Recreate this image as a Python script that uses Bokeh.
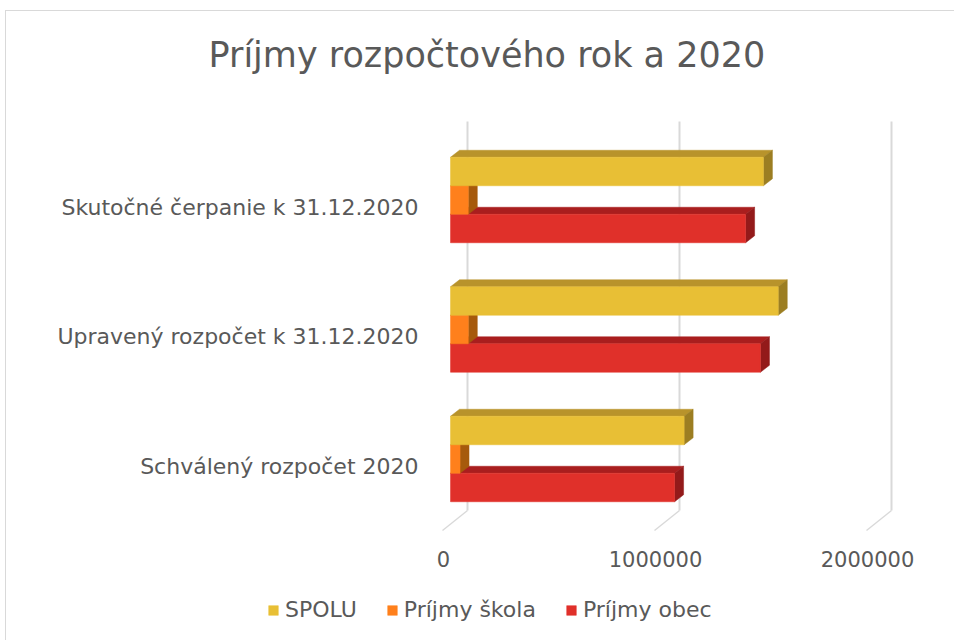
from bokeh.plotting import figure
from bokeh.models import (FixedTicker, LinearAxis, Range1d, Legend, LegendItem, Title)
from bokeh.embed import file_html
from bokeh.resources import INLINE

# ---------------- data ----------------
categories = ["Schválený rozpočet 2020", "Upravený rozpočet k 31.12.2020", "Skutočné čerpanie k 31.12.2020"]
series_names = ["SPOLU", "Príjmy škola", "Príjmy obec"]
spolu = [1102000, 1546000, 1476000]
skola = [45000, 84000, 84000]
obec = [1057000, 1462000, 1392000]
x_ticks = [0, 1000000, 2000000]
x_tick_labels = ["0", "1000000", "2000000"]
title_text = "Príjmy rozpočtového rok a 2020"

# ---------------- layout / style ----------------
OX, OY = 6, 11           # page position of the canvas (after css margin + border)
W, H = 955 - OX, 641 - OY
# frame in page pixels
PL, PR, PT, PB = 250, 910, 20, 634
FRAME_L, FRAME_R, FRAME_T, FRAME_B = PL - OX, PR - OX, PT - OY, PB - OY
PPV = 212 / 1e6          # pixels per value unit
PPC = 129.5              # pixels per category
ZERO_X = 450 - OX        # canvas x of value 0 (bar front plane)
CAT0_Y = 465.5 - OY      # canvas y of first category label
FONT = "DejaVu Sans"
TXT = "#595959"

def dxv(px):
    return px / PPV

def dyv(px):
    return px / PPC

x_start = (FRAME_L - ZERO_X) / PPV
x_end = (FRAME_R - ZERO_X) / PPV
y_start = (CAT0_Y - FRAME_B) / PPC
y_end = (CAT0_Y - FRAME_T) / PPC

p = figure(width=W, height=H, output_backend="svg", toolbar_location=None,
           x_range=Range1d(x_start, x_end), y_range=Range1d(y_start, y_end),
           min_border_left=FRAME_L, min_border_right=W - FRAME_R,
           min_border_top=FRAME_T, min_border_bottom=H - FRAME_B,
           x_axis_location=None, title=None)
p.styles = {"margin-left": "5px", "margin-top": "10px",
            "border-top": "1px solid #d9d9d9", "border-left": "1px solid #d9d9d9"}
p.outline_line_color = None
p.background_fill_color = "white"
p.border_fill_color = "white"
p.grid.visible = False

# title (pulled down into the canvas by a negative standoff)
t = Title(text=title_text, align="left", offset=208 - PL, standoff=-2 * (74 - PT),
          text_font=FONT, text_font_size="35px", text_font_style="normal",
          text_color=TXT)
p.add_layout(t, "above")

# y axis (categories), labels pulled right to sit left of the bars
p.yaxis.ticker = FixedTicker(ticks=list(range(len(categories))))
p.yaxis.major_label_overrides = {i: c for i, c in enumerate(categories)}
p.yaxis.major_label_text_font = FONT
p.yaxis.major_label_text_font_size = "22px"
p.yaxis.major_label_text_color = TXT
p.yaxis.major_label_standoff = PL - 424
p.yaxis.axis_line_color = None
p.yaxis.major_tick_line_color = None
p.yaxis.minor_tick_line_color = None

# x axis (labels drawn up at the floor front edge)
p.extra_x_ranges = {"floor": Range1d((FRAME_L - (ZERO_X - 7)) / PPV, (FRAME_R - (ZERO_X - 7)) / PPV)}
xa = LinearAxis(x_range_name="floor", ticker=FixedTicker(ticks=x_ticks),
                major_label_overrides={v: l for v, l in zip(x_ticks, x_tick_labels)})
xa.major_label_text_font = FONT
xa.major_label_text_font_size = "21px"
xa.major_label_text_color = TXT
xa.major_label_standoff = 544 - PB
xa.axis_line_color = None
xa.major_tick_line_color = None
xa.minor_tick_line_color = None
p.add_layout(xa, "below")

# gridlines (back wall) + floor lines
g_top = (CAT0_Y - (121 - OY)) / PPC
g_bot = (CAT0_Y - (510 - OY)) / PPC
g_front = (CAT0_Y - (530 - OY)) / PPC
p.segment(x0=[v + dxv(17) for v in x_ticks], y0=[g_top] * len(x_ticks),
          x1=[v + dxv(17) for v in x_ticks], y1=[g_bot] * len(x_ticks),
          line_color="#d9d9d9", line_width=2)
p.segment(x0=[v + dxv(17) for v in x_ticks], y0=[g_bot] * len(x_ticks),
          x1=[v + dxv(17 - 25) for v in x_ticks], y1=[g_front] * len(x_ticks),
          line_color="#d9d9d9", line_width=1.5)

# 3D bars
BAR_H = dyv(28.5)
DX, DY = dxv(9), dyv(7)
series = [
    (obec, 2, "#E0302A", "#A91E1E", "#931A1A"),
    (skola, 1, "#FF801C", "#B4600E", "#A65A0C"),
    (spolu, 0, "#E8BF35", "#B8932B", "#9C7E22"),
]
renderers = {}
for vals, s, front, top, side in series:
    cy = [k + dyv(7) + (1 - s) * BAR_H for k in range(len(categories))]
    top_xs = [[0, v, v + DX, DX] for v in vals]
    top_ys = [[c + BAR_H / 2, c + BAR_H / 2, c + BAR_H / 2 + DY, c + BAR_H / 2 + DY] for c in cy]
    p.patches(xs=top_xs, ys=top_ys, fill_color=top, line_color=top, line_width=0.5)
    side_xs = [[v, v, v + DX, v + DX] for v in vals]
    side_ys = [[c - BAR_H / 2, c + BAR_H / 2, c + BAR_H / 2 + DY, c - BAR_H / 2 + DY] for c in cy]
    p.patches(xs=side_xs, ys=side_ys, fill_color=side, line_color=side, line_width=0.5)
    r = p.hbar(y=cy, left=0, right=vals, height=BAR_H, fill_color=front, line_color=front, line_width=0.5)
    renderers[s] = r

# legend inside the (extended) frame
legend = Legend(items=[LegendItem(label=series_names[s], renderers=[renderers[s]]) for s in range(3)],
                orientation="horizontal", location=(267 - PL, PB - 622),
                glyph_width=12, glyph_height=12, label_standoff=6, spacing=29,
                padding=0, margin=0, border_line_color=None, background_fill_alpha=0,
                label_text_font=FONT, label_text_font_size="22px", label_text_color=TXT)
p.add_layout(legend, "center")

open("out.html", "w").write(file_html(p, INLINE))
